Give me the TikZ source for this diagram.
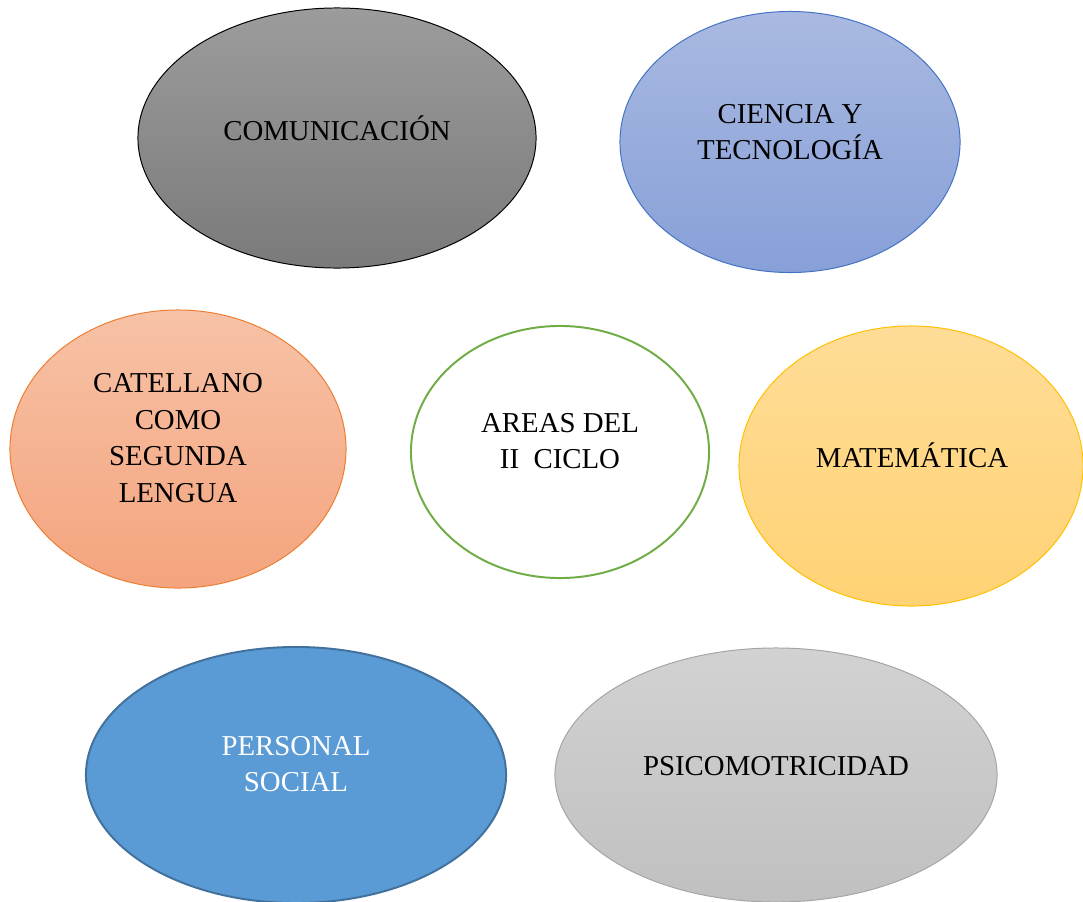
\documentclass[tikz,border=0pt]{standalone}
\usepackage{fontspec}
\setmainfont{Liberation Serif}
\usetikzlibrary{shapes,shapes.geometric,calc}
\usetikzlibrary{positioning}

\definecolor{grisosc}{HTML}{7A7A7A}
\definecolor{grisosctop}{HTML}{9C9C9C}
\definecolor{azulcla}{HTML}{A9B9E1}
\definecolor{azulclabot}{HTML}{87A0D8}
\definecolor{azulborde}{HTML}{4472C4}
\definecolor{naranjatop}{HTML}{F7C2A6}
\definecolor{naranjabot}{HTML}{F4A47E}
\definecolor{naranjaborde}{HTML}{ED7D31}
\definecolor{verde}{HTML}{70AD47}
\definecolor{amarillotop}{HTML}{FFDC97}
\definecolor{amarillobot}{HTML}{FFD274}
\definecolor{amarilloborde}{HTML}{FFC000}
\definecolor{azulper}{HTML}{5B9BD5}
\definecolor{azulperborde}{HTML}{41719C}
\definecolor{gristop}{HTML}{D2D2D2}
\definecolor{grisbot}{HTML}{C0C0C0}
\definecolor{grisborde}{HTML}{A5A5A5}

\begin{document}
\begin{tikzpicture}[x=0.025cm, y=-0.025cm]
	\tikzset{area/.style={ellipse, draw, line width=0.7pt, inner sep=0pt}};
	\tikzset{texto/.style={align=center, font=\fontsize{20.5}{26}\selectfont}};
	\useasboundingbox (0,0) rectangle (1083,901);
	% Place ellipses
	\node [area, draw=black, top color=grisosctop, bottom color=grisosc, minimum width=9.95cm, minimum height=6.5cm] (com) at (337,138) {};
	\node [area, draw=azulborde, top color=azulcla, bottom color=azulclabot, minimum width=8.5cm, minimum height=6.525cm] (cyt) at (790,142) {};
	\node [area, draw=naranjaborde, top color=naranjatop, bottom color=naranjabot, minimum width=8.4cm, minimum height=6.95cm] (cas) at (178,449) {};
	\node [area, draw=verde, fill=white, line width=1.4pt, minimum width=7.45cm, minimum height=6.3cm] (areas) at (560,452) {};
	\node [area, draw=amarilloborde, top color=amarillotop, bottom color=amarillobot, minimum width=8.6cm, minimum height=7cm] (mat) at (911,466) {};
	\node [area, draw=azulperborde, fill=azulper, line width=1.4pt, minimum width=10.5cm, minimum height=6.4cm] (per) at (296,775) {};
	\node [area, draw=grisborde, top color=gristop, bottom color=grisbot, minimum width=11.05cm, minimum height=6.35cm] (psi) at (776,775) {};
	% Place texts
	\node [texto] (com-t) at (337,128) {COMUNICACIÓN};
	\node [texto] (cyt-t) at (790,132) {CIENCIA Y\\TECNOLOGÍA};
	\node [texto] (cas-t) at (178,438) {CATELLANO\\COMO\\SEGUNDA\\LENGUA};
	\node [texto] (areas-t) at (560,441) {AREAS DEL\\II~~CICLO};
	\node [texto] (mat-t) at (912,455) {MATEMÁTICA};
	\node [texto, text=white] (per-t) at (296,764) {PERSONAL\\SOCIAL};
	\node [texto] (psi-t) at (776,766) {PSICOMOTRICIDAD};
\end{tikzpicture}
\end{document}
